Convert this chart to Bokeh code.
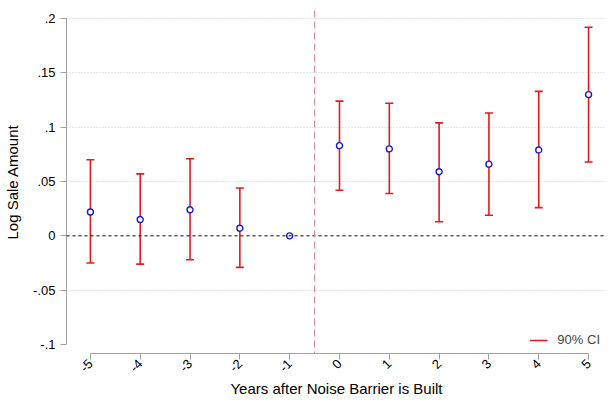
import math
from bokeh.plotting import figure
from bokeh.models import Span, FixedTicker, Legend, LegendItem, Range1d, ColumnDataSource
from bokeh.embed import file_html
from bokeh.resources import INLINE

# ---- data ----
years = [-5, -4, -3, -2, -1, 0, 1, 2, 3, 4, 5]
estimate = [0.022, 0.015, 0.024, 0.007, 0.0, 0.083, 0.080, 0.059, 0.066, 0.079, 0.130]
ci_low = [-0.025, -0.026, -0.022, -0.029, None, 0.042, 0.039, 0.013, 0.019, 0.026, 0.068]
ci_high = [0.070, 0.057, 0.071, 0.044, None, 0.124, 0.122, 0.104, 0.113, 0.133, 0.192]
y_ticks = [-0.1, -0.05, 0.0, 0.05, 0.1, 0.15, 0.2]
y_tick_labels = ["-.1", "-.05", "0", ".05", ".1", ".15", ".2"]
x_tick_labels = [str(v) for v in years]
event_line = -0.5
legend_label = "90% CI"

FONT = "Liberation Sans"
RED = "#e41a1c"
BLUE = "#1a1ad0"

p = figure(width=607, height=402, output_backend="svg", toolbar_location=None,
           x_range=Range1d(-5.48, 5.36), y_range=Range1d(-0.1083, 0.2074),
           min_border_left=66, min_border_top=10, min_border_right=1, min_border_bottom=49)
p.outline_line_color = None
p.background_fill_color = "white"
p.border_fill_color = "white"

# grid
p.xgrid.visible = False
p.ygrid.ticker = FixedTicker(ticks=[v for v in y_ticks if v not in (0.0, -0.1)])
p.ygrid.grid_line_color = "#cccccc"
p.ygrid.grid_line_dash = "1 2"
p.ygrid.grid_line_width = 1

# axes
p.xaxis.ticker = FixedTicker(ticks=years)
p.xaxis.major_label_overrides = {v: l for v, l in zip(years, x_tick_labels)}
p.xaxis.major_label_orientation = math.pi / 4
p.xaxis.bounds = (min(years), max(years))
p.xaxis.axis_label = "Years after Noise Barrier is Built"

p.yaxis.ticker = FixedTicker(ticks=y_ticks)
p.yaxis.major_label_overrides = {v: l for v, l in zip(y_ticks, y_tick_labels)}
p.yaxis.major_label_orientation = "horizontal"
p.yaxis.bounds = (min(y_ticks), max(y_ticks))
p.yaxis.axis_label = "Log Sale Amount"

for ax in (p.xaxis[0], p.yaxis[0]):
    ax.axis_line_color = "#a0a0a0"
    ax.major_tick_line_color = "#a0a0a0"
    ax.major_tick_out = 6
    ax.major_tick_in = 0
    ax.minor_tick_line_color = None
    ax.major_label_text_font = FONT
    ax.major_label_text_font_size = "13px"
    ax.major_label_text_color = "black"
    ax.axis_label_text_font = FONT
    ax.axis_label_text_font_size = "15px"
    ax.axis_label_text_font_style = "normal"
    ax.axis_label_text_color = "black"
p.xaxis.major_label_standoff = 2
p.xaxis.axis_label_standoff = 1
p.yaxis.major_label_standoff = 5
p.yaxis.axis_label_standoff = 9

# reference lines
p.add_layout(Span(location=0, dimension="width", line_color="black", line_dash="3 3", line_width=1))
p.add_layout(Span(location=event_line, dimension="height", line_color="#d98aa3", line_dash="7 4", line_width=1.2))

# CIs
xs = [x for x, lo in zip(years, ci_low) if lo is not None]
los = [lo for lo in ci_low if lo is not None]
his = [hi for hi in ci_high if hi is not None]
ci_src = ColumnDataSource(dict(x=xs, lo=los, hi=his))
seg = p.segment(x0="x", y0="lo", x1="x", y1="hi", source=ci_src, line_color=RED, line_width=1.6)
p.scatter(x="x", y="lo", source=ci_src, marker="dash", size=8, line_color=RED, line_width=1.6)
p.scatter(x="x", y="hi", source=ci_src, marker="dash", size=8, line_color=RED, line_width=1.6)

# point estimates
p.scatter(x=years, y=estimate, marker="circle", size=6, line_color=BLUE, fill_color="white", line_width=1.4)

legend = Legend(items=[LegendItem(label=legend_label, renderers=[seg])], location="bottom_right",
                background_fill_alpha=0, border_line_color=None, label_text_font=FONT,
                label_text_font_size="13px", glyph_width=18, glyph_height=12, margin=6, padding=4,
                label_standoff=10)
p.add_layout(legend)

open("out.html", "w").write(file_html(p, INLINE))
